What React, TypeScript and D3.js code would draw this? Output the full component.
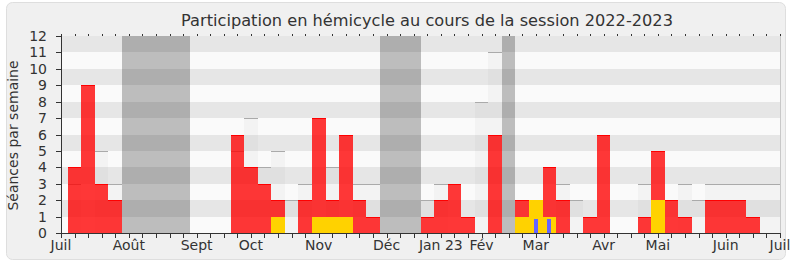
import React from "react";
import * as d3 from "d3";

// week index 0..53 (one point per week, Juil 2022 -> Juil 2023)
const presence = [0, 4, 9, 3, 2, 0, 0, 0, 0, 0, 0, 0, 0, 6, 4, 3, 2, 0, 2, 7, 2, 6, 2, 1, 0, 0, 0, 1, 2, 3, 1, 0, 6, 0, 2, 2, 4, 2, 0, 1, 6, 0, 0, 1, 5, 2, 1, 0, 2, 2, 2, 1, 0, 0];
const interventions = [0, 0, 0, 0, 0, 0, 0, 0, 0, 0, 0, 0, 0, 0, 0, 0, 1, 0, 0, 1, 1, 1, 0, 0, 0, 0, 0, 0, 0, 0, 0, 0, 0, 0, 1, 2, 1, 0, 0, 0, 0, 0, 0, 0, 2, 0, 0, 0, 0, 0, 0, 0, 0, 0];
const questions = [0, 0, 0, 0, 0, 0, 0, 0, 0, 0, 0, 0, 0, 0, 0, 0, 0, 0, 0, 0, 0, 0, 0, 0, 0, 0, 0, 0, 0, 0, 0, 0, 0, 0, 0, 0.85, 0.85, 0, 0, 0, 0, 0, 0, 0, 0, 0, 0, 0, 0, 0, 0, 0, 0, 0];
const median = [0, 3, 0, 5, 3, 0, 0, 0, 0, 0, 0, 0, 0, 5, 7, 4, 5, 2, 3, 0, 4, 0, 3, 3, 0, 0, 0, 2, 3, 0, 0, 8, 11, 0, 0, 0, 0, 3, 2, 0, 0, 0, 0, 3, 0, 0, 3, 2, 3, 3, 3, 3, 3, 3];
const vacances = [5, 6, 7, 8, 9, 24, 25, 26, 33];
const monthLabels = ["Juil", "Août", "Sept", "Oct", "Nov", "Déc", "Jan 23", "Fév", "Mar", "Avr", "Mai", "Juin", "Juil"];
const monthIndex = [0, 5, 10, 14, 19, 24, 28, 31, 35, 40, 44, 49, 53];
const yTicks = d3.range(0, 13);

const W = 790;
const H = 267;
const L = 61;
const R = 780;
const T = 36;
const B = 233;
const FONT = "DejaVu Sans, Verdana, sans-serif";

export default function App() {
  const x = d3.scaleLinear().domain([0, 53]).range([L, R]);
  const y = d3.scaleLinear().domain([0, 12]).range([B, T]);
  const bx0 = (i: number) => Math.round(Math.max(L, x(i - 0.5)));
  const bx1 = (i: number) => Math.round(Math.min(R, x(i + 0.5)));
  const yy = (v: number) => Math.round(y(v));
  const weeks = d3.range(0, 54);

  return (
    <div style={{ position: "fixed", left: 0, top: 0 }}>
      <svg width={W} height={H} style={{ display: "block", background: "#ffffff" }}>
        <rect x={6.5} y={2.5} width={779} height={257} rx={6} fill="#f0f0f0" stroke="#dedede" />
        <text x={427} y={26} textAnchor="middle" fontFamily={FONT} fontSize={16.2} fill="#333">
          Participation en hémicycle au cours de la session 2022-2023
        </text>
        <g shapeRendering="crispEdges">
          {/* plot background */}
          <rect x={L} y={T} width={R - L} height={B - T} fill="#fafafa" />
          {/* vacations */}
          {vacances.map((i) => (
            <rect key={"v" + i} x={bx0(i)} y={T} width={bx1(i) - bx0(i)} height={B - T} fill="#bdbdbd" />
          ))}
          {/* median bars */}
          {weeks.filter((i) => median[i] > 0).map((i) => (
            <rect key={"m" + i} x={bx0(i)} y={yy(median[i])} width={bx1(i) - bx0(i)} height={B - yy(median[i])} fill="#f3f3f3" />
          ))}
          {/* stripes */}
          {yTicks.filter((v) => v % 2 === 1).map((v) => (
            <rect key={"s" + v} x={L} y={yy(v + 1)} width={R - L} height={yy(v) - yy(v + 1)} fill="#000" fillOpacity={0.08} />
          ))}
          {weeks.filter((i) => median[i] > 0).map((i) => (
            <rect key={"ml" + i} x={bx0(i)} y={yy(median[i])} width={bx1(i) - bx0(i)} height={1} fill="#aaaaaa" />
          ))}
          {/* presence */}
          {weeks.filter((i) => presence[i] > 0).map((i) => (
            <g key={"p" + i}>
              <rect x={bx0(i)} y={yy(presence[i])} width={bx1(i) - bx0(i)} height={B - yy(presence[i])} fill="#ff0000" fillOpacity={0.78} />
              <rect x={bx0(i)} y={yy(presence[i])} width={bx1(i) - bx0(i)} height={1} fill="#ff0000" />
            </g>
          ))}
          {/* interventions */}
          {weeks.filter((i) => interventions[i] > 0).map((i) => (
            <rect key={"i" + i} x={bx0(i)} y={yy(interventions[i])} width={bx1(i) - bx0(i)} height={B - yy(interventions[i])} fill="#ffd200" />
          ))}
          {/* questions */}
          {weeks.filter((i) => questions[i] > 0).map((i) => (
            <rect key={"q" + i} x={Math.round(x(i) - 2)} y={yy(questions[i])} width={4} height={B - yy(questions[i])} fill="#6464ff" />
          ))}
          {/* right border */}
          <line x1={R + 0.5} x2={R + 0.5} y1={T} y2={B} stroke="#c8c8c8" />
          {/* top dots */}
          {weeks.map((i) => (
            <rect key={"td" + i} x={Math.round(x(i))} y={T - 2} width={1} height={2} fill="#333" />
          ))}
          {/* y axis */}
          <line x1={L + 0.5} x2={L + 0.5} y1={T} y2={B} stroke="#333" />
          {yTicks.map((v) => (
            <line key={"yt" + v} x1={L - 5} x2={L} y1={yy(v) + 0.5} y2={yy(v) + 0.5} stroke="#333" />
          ))}
          {/* x axis */}
          <line x1={L} x2={R + 1} y1={B + 0.5} y2={B + 0.5} stroke="#333" />
          {weeks.map((i) => (
            <line key={"xt" + i} x1={Math.round(x(i)) + 0.5} x2={Math.round(x(i)) + 0.5} y1={B} y2={B + 5} stroke="#333" />
          ))}
        </g>
        {yTicks.map((v) => (
          <text key={"yl" + v} x={47} y={y(v) + 5} textAnchor="end" fontFamily={FONT} fontSize={14} fill="#333">
            {v}
          </text>
        ))}
        {monthLabels.map((m, k) => (
          <text key={"mlab" + k} x={x(monthIndex[k])} y={250} textAnchor="middle" fontFamily={FONT} fontSize={14} fill="#333">
            {m}
          </text>
        ))}
        <text transform={`translate(18,${(T + B) / 2 + 1}) rotate(-90)`} textAnchor="middle" fontFamily={FONT} fontSize={14} fill="#333">
          Séances par semaine
        </text>
      </svg>
    </div>
  );
}
